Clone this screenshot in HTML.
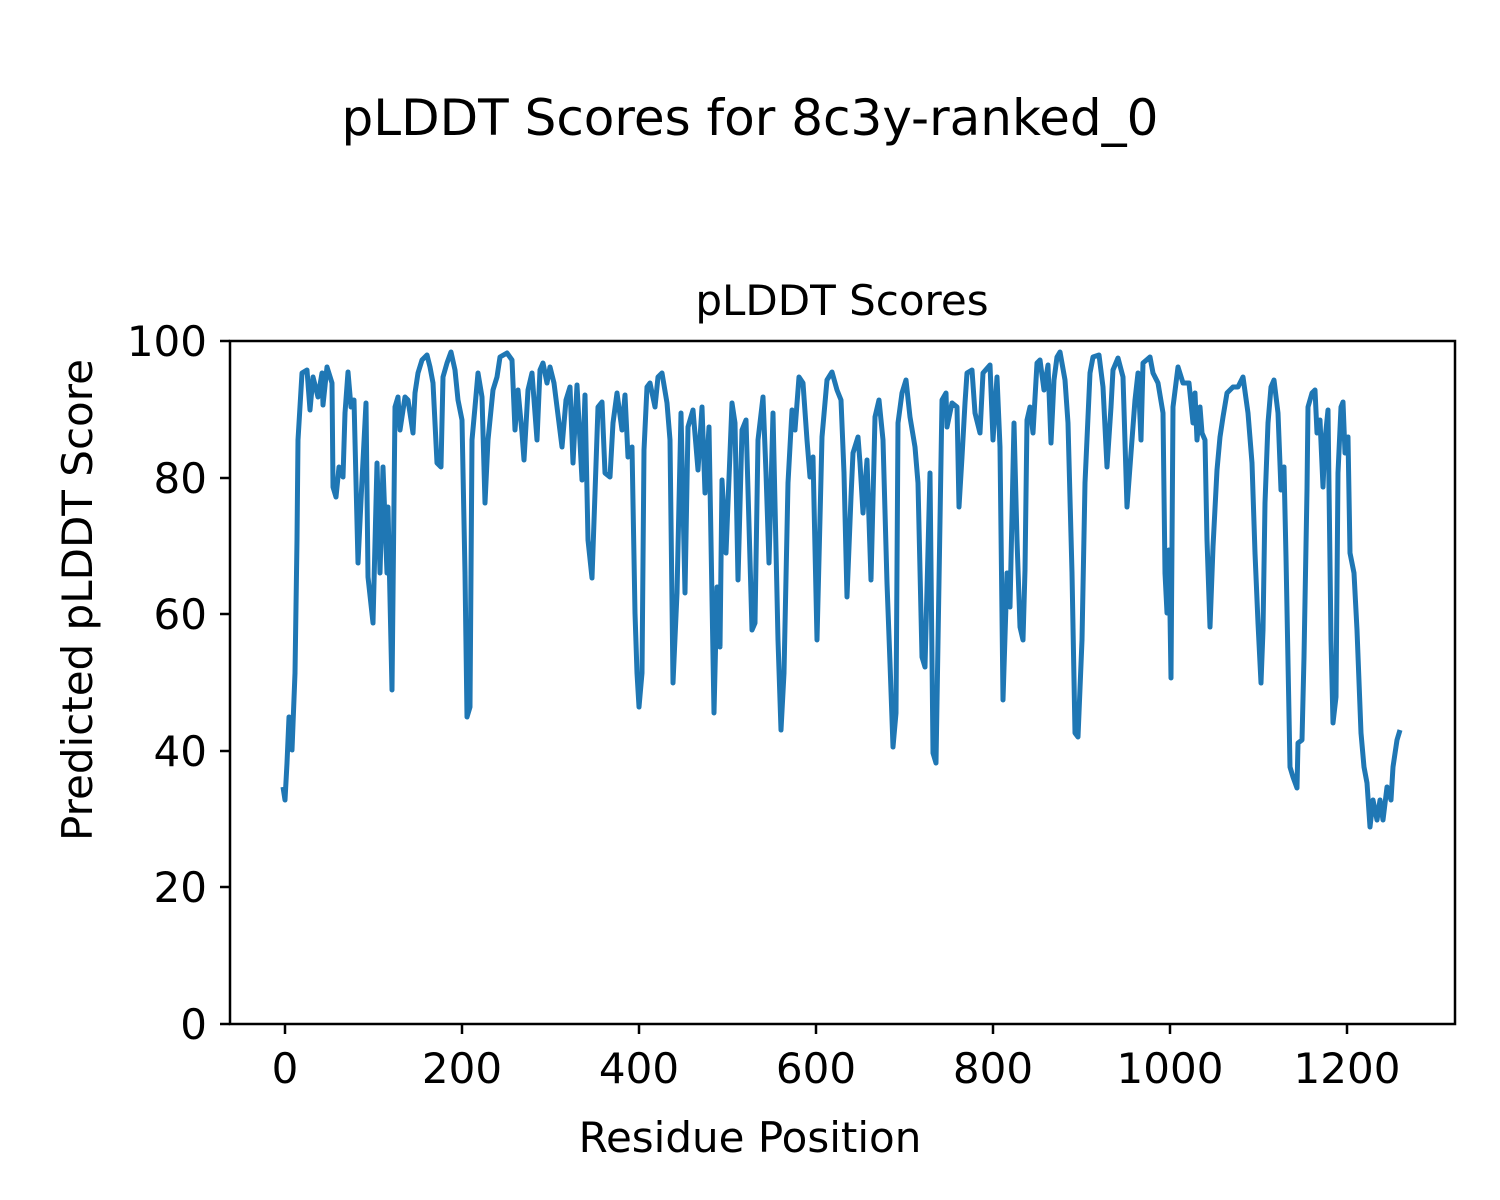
<!DOCTYPE html>
<html><head><meta charset="utf-8"><style>
html,body{margin:0;padding:0;background:#fff;}
svg{display:block;}
text{font-family:"DejaVu Sans","Liberation Sans",sans-serif;fill:#000;}
</style></head><body>
<svg width="1500" height="1200" viewBox="0 0 1500 1200" xmlns="http://www.w3.org/2000/svg">
<rect width="1500" height="1200" fill="#fff"/>
<text x="750" y="135" font-size="50" text-anchor="middle">pLDDT Scores for 8c3y-ranked_0</text>
<text x="842" y="315" font-size="42" text-anchor="middle">pLDDT Scores</text>
<polyline fill="none" stroke="#1f77b4" stroke-width="5" stroke-linejoin="round" points="
283,787 285,800 287,763 289,717 292,750 295,673 297,540 298,440 302,373 307,370 310,410 313,377 318,397 322,373 323,405 327,367 332,383 333,487 336,497 339,467 343,477 345,413 348,372 351,407 354,400 358,563 362,480 366,403 368,577 373,623 377,463 380,573 383,467 387,573 388,507 392,690 395,407 398,397 400,430 405,397 408,400 413,433 415,393 418,373 422,360 427,355 430,367 433,383 437,463 441,467 443,377 447,363 451,352 455,370 458,400 462,420 465,573 467,717 470,707 472,440 475,407 478,373 482,397 485,503 488,440 493,390 497,377 500,357 507,353 512,360 515,430 518,390 522,433 524,460 528,390 532,373 537,440 540,370 543,363 547,383 550,367 554,383 557,407 562,447 566,400 570,387 573,463 577,385 582,480 585,395 588,540 592,578 595,493 598,407 602,402 605,473 610,477 613,423 617,393 622,430 625,395 628,457 632,447 635,613 637,673 639,707 642,673 644,450 647,387 650,383 655,407 658,377 662,373 667,403 670,440 673,683 677,593 681,413 685,593 688,427 693,410 698,470 702,407 705,493 709,427 714,713 717,587 720,647 722,480 726,553 732,403 735,423 738,580 742,430 746,420 752,630 755,623 758,440 763,397 766,473 769,563 773,413 778,640 781,730 784,673 788,483 792,410 795,430 799,377 803,383 807,440 810,477 813,457 817,640 822,437 827,380 832,372 837,390 841,400 844,473 847,597 851,497 853,453 858,437 860,463 863,513 867,460 871,580 875,417 879,400 883,440 887,583 890,663 893,747 896,713 898,423 902,393 906,380 910,417 915,447 918,483 922,657 925,667 930,473 933,753 936,763 942,400 946,393 947,427 952,403 957,407 959,507 962,457 965,403 967,373 972,370 975,413 980,433 983,373 990,365 993,440 997,377 1000,447 1003,700 1007,573 1010,607 1014,423 1017,540 1020,627 1023,640 1025,570 1027,420 1030,407 1033,433 1037,363 1040,360 1044,390 1048,365 1051,443 1054,380 1057,357 1060,352 1065,380 1068,423 1072,573 1075,733 1078,737 1082,640 1085,483 1090,373 1093,357 1099,355 1103,387 1107,467 1111,407 1113,370 1118,358 1123,377 1127,507 1131,453 1135,400 1138,373 1141,440 1143,363 1150,357 1153,373 1158,383 1163,413 1165,573 1167,613 1169,550 1171,678 1173,407 1178,367 1183,383 1189,383 1193,423 1195,393 1197,440 1200,407 1202,433 1205,440 1207,540 1210,627 1213,547 1217,470 1220,437 1223,417 1227,393 1233,387 1238,387 1243,377 1248,413 1252,463 1255,553 1258,623 1261,683 1263,630 1265,503 1268,423 1271,387 1274,380 1278,413 1281,490 1284,467 1286,557 1290,767 1293,777 1297,788 1298,743 1302,740 1304,657 1307,490 1308,407 1312,393 1315,390 1317,433 1320,420 1323,487 1325,440 1328,410 1331,640 1333,723 1336,697 1338,473 1341,407 1343,402 1345,453 1348,437 1350,553 1354,573 1357,630 1361,733 1364,767 1367,783 1370,827 1373,800 1377,820 1380,800 1383,820 1387,787 1391,800 1393,767 1397,740 1400,730"/>
<rect x="230" y="341" width="1225" height="683" fill="none" stroke="#000" stroke-width="2.5"/>
<g stroke="#000" stroke-width="2.5">
<line x1="285" y1="1024" x2="285" y2="1034"/><line x1="462" y1="1024" x2="462" y2="1034"/><line x1="639" y1="1024" x2="639" y2="1034"/><line x1="816" y1="1024" x2="816" y2="1034"/><line x1="993" y1="1024" x2="993" y2="1034"/><line x1="1170" y1="1024" x2="1170" y2="1034"/><line x1="1347" y1="1024" x2="1347" y2="1034"/>
<line x1="220" y1="341" x2="230" y2="341"/><line x1="220" y1="478" x2="230" y2="478"/><line x1="220" y1="614" x2="230" y2="614"/><line x1="220" y1="751" x2="230" y2="751"/><line x1="220" y1="887" x2="230" y2="887"/><line x1="220" y1="1024" x2="230" y2="1024"/>
</g>
<g font-size="42" text-anchor="middle">
<text x="285" y="1083">0</text><text x="462" y="1083">200</text><text x="639" y="1083">400</text><text x="816" y="1083">600</text><text x="993" y="1083">800</text><text x="1170" y="1083">1000</text><text x="1347" y="1083">1200</text>
</g>
<g font-size="42" text-anchor="end">
<text x="207" y="356">100</text><text x="207" y="493">80</text><text x="207" y="629">60</text><text x="207" y="766">40</text><text x="207" y="902">20</text><text x="207" y="1039">0</text>
</g>
<text x="750" y="1152" font-size="42" text-anchor="middle">Residue Position</text>
<text transform="translate(92,600) rotate(-90)" font-size="42" text-anchor="middle">Predicted pLDDT Score</text>
</svg>
</body></html>
